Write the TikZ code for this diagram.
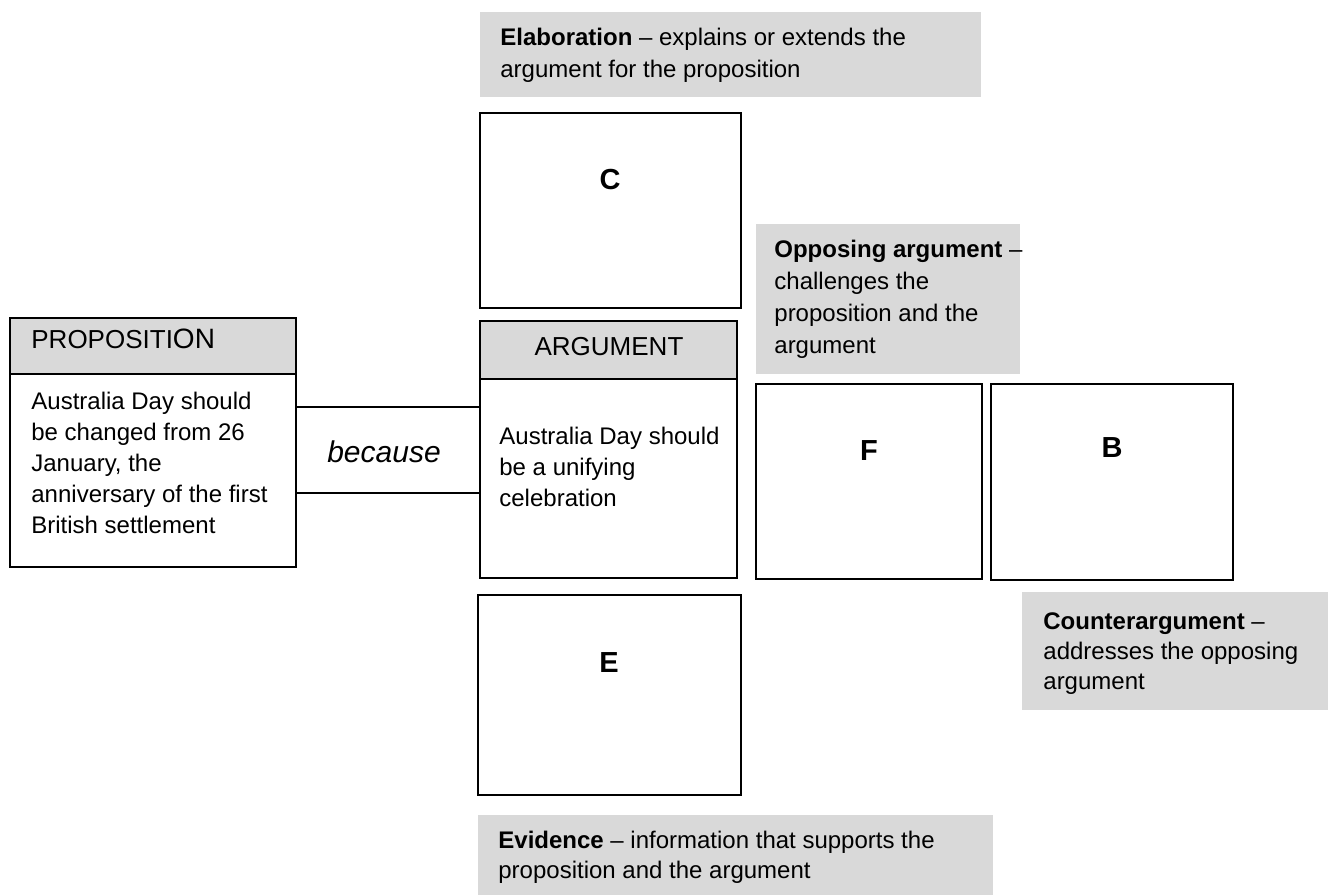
\documentclass[tikz,border=0pt]{standalone}
\usepackage{fontspec}
\setmainfont{Liberation Sans}
\definecolor{notegray}{HTML}{D9D9D9}
\definecolor{headgray}{HTML}{D9D9D9}
\begin{document}
\begin{tikzpicture}[x=0.5pt,y=-0.5pt,
  box/.style={draw=black, line width=0.6pt, anchor=north west, inner sep=0pt, outer sep=0pt},
  headbox/.style={box, fill=headgray},
  note/.style={fill=notegray, anchor=north west, inner sep=0pt, outer sep=0pt},
  txt/.style={anchor=base west, inner sep=0pt, align=left, font=\fontsize{12}{15.5}\selectfont},
  headtxt/.style={inner sep=0pt, font=\fontsize{13}{15}\selectfont},
  letter/.style={font=\fontsize{14.5}{17}\selectfont\bfseries, inner sep=0pt},
  link/.style={draw=black, line width=0.6pt}]
\useasboundingbox (0,0) rectangle (1328,895);

% grey notes
\node[note, minimum width=250.5pt, minimum height=42.5pt] (elab) at (480,12) {};
\node[note, minimum width=132pt, minimum height=75pt] (opp) at (756,224) {};
\node[note, minimum width=257.5pt, minimum height=40pt] (evid) at (478,815) {};
\node[note, minimum width=153pt, minimum height=59pt] (counter) at (1022,592) {};

% (base anchor = baseline of the last line)
\node[txt, font=\fontsize{12}{16}\selectfont] (elabtxt) at (500,77) {\textbf{Elaboration} – explains or extends the\\argument for the proposition};
\node[txt, font=\fontsize{12}{15.85}\selectfont] (opptxt) at (774,353) {\textbf{Opposing argument} –\\challenges the\\proposition and the\\argument};
\node[txt, font=\fontsize{12}{15}\selectfont] (evidtxt) at (498,878) {\textbf{Evidence} – information that supports the\\proposition and the argument};
\node[txt, font=\fontsize{12}{15}\selectfont] (countertxt) at (1043,689) {\textbf{Counterargument} –\\addresses the opposing\\argument};

% proposition
\node[headbox, minimum width=143pt, minimum height=28pt] (prophead) at (10,318) {};
\node[box, minimum width=143pt, minimum height=96.5pt] (propbody) at (10,374) {};
\node[headtxt, anchor=base west] (proptitle) at (31,348) {PROPOSITI{\fontsize{14}{15}\selectfont ON}};
\node[txt] (proptxt) at (31,533) {Australia Day should\\be changed from 26\\January, the\\anniversary of the first\\British settlement};

% argument
\node[headbox, minimum width=128.5pt, minimum height=29pt] (arghead) at (480,321) {};
\node[box, minimum width=128.5pt, minimum height=99.5pt] (argbody) at (480,379) {};
\node[headtxt, anchor=base] (argtitle) at (609,355) {ARGUMENT};
\node[txt] (argtxt) at (499,506) {Australia Day should\\be a unifying\\celebration};

% connectors
\draw[link] (propbody.east |- 0,407) -- (argbody.west |- 0,407);
\draw[link] (propbody.east |- 0,493) -- (argbody.west |- 0,493);
\node[inner sep=0pt, anchor=base, font=\fontsize{15}{18}\selectfont\itshape] (because) at (384,462) {because};

% letter boxes
\node[box, minimum width=130.5pt, minimum height=97.5pt] (boxC) at (480,113) {};
\node[letter] (labC) at (610,180) {C};
\node[box, minimum width=113pt, minimum height=97.5pt] (boxF) at (756,384) {};
\node[letter] (labF) at (869,451) {F};
\node[box, minimum width=121pt, minimum height=98pt] (boxB) at (991,384) {};
\node[letter] (labB) at (1112,448) {B};
\node[box, minimum width=131.5pt, minimum height=100pt] (boxE) at (478,595) {};
\node[letter] (labE) at (609,663) {E};
\end{tikzpicture}
\end{document}
